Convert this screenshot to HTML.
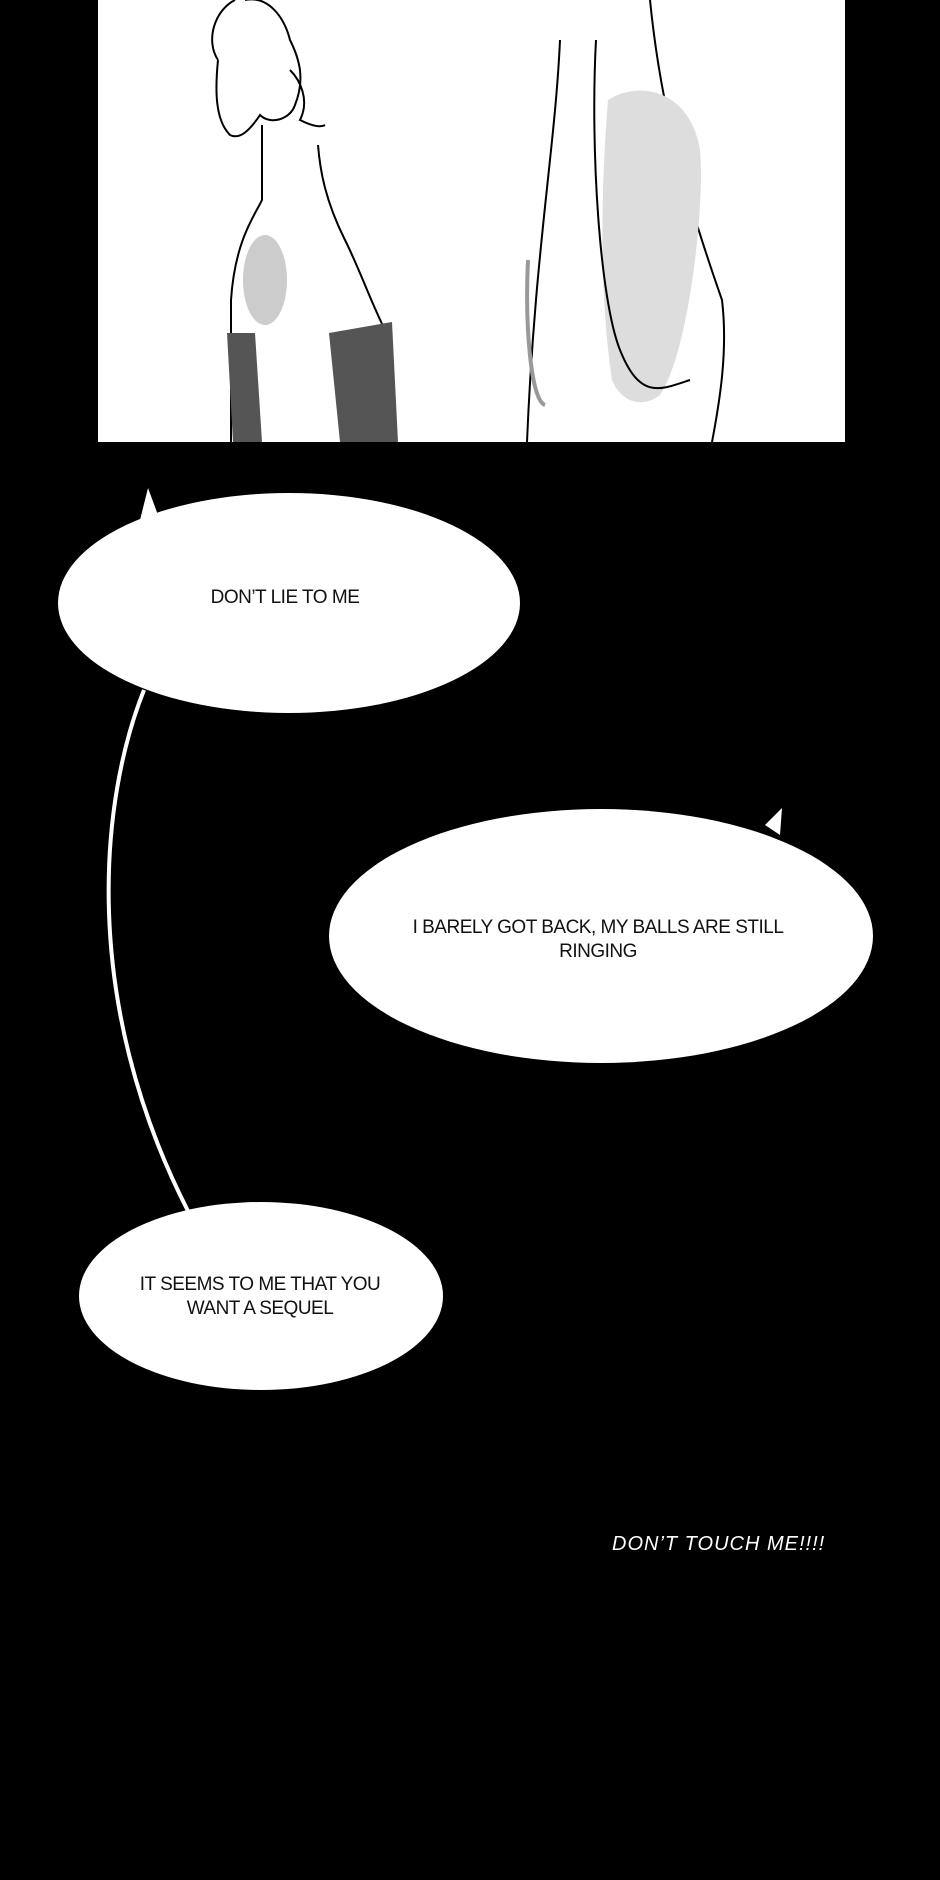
<!DOCTYPE html>
<html><head><meta charset="utf-8"><style>
html,body{margin:0;padding:0;background:#000;}
body{width:940px;height:1880px;position:relative;overflow:hidden;font-family:"Liberation Sans",sans-serif;}
.t{position:absolute;color:#111;font-size:19px;text-align:center;letter-spacing:-0.5px;line-height:24px;}
</style></head><body>
<svg width="940" height="1880" style="position:absolute;left:0;top:0">
<rect x="98" y="0" width="747" height="442" fill="#fff"/>
<g fill="none" stroke="#000" stroke-width="2">
<path d="M218 60 C205 40 215 10 235 0 M245 0 C270 -5 285 20 290 40 C300 60 305 80 295 105 C290 120 270 125 260 115 C250 130 240 140 230 135 C215 120 215 90 218 60"/>
<path d="M262 125 L262 200 C255 215 235 240 231 300 L231 442"/>
<path d="M318 145 C320 170 325 200 345 240 C360 270 370 300 385 330"/>
<path d="M290 70 C300 80 310 100 300 120 C310 125 320 128 325 125"/>
</g>
<path d="M227 333 L255 333 L262 442 L233 442 Z" fill="#555"/>
<path d="M329 333 L392 322 L398 442 L340 442 Z" fill="#555"/>
<ellipse cx="265" cy="280" rx="22" ry="45" fill="#ccc"/>
<g fill="none" stroke="#000" stroke-width="2">
<path d="M560 40 C555 150 535 250 527 442"/>
<path d="M650 0 C660 100 680 180 722 300 C728 350 720 400 712 442"/>
</g>
<path d="M608 100 C640 80 690 90 700 150 C705 200 690 350 660 395 C640 410 620 400 612 380 C600 300 600 200 608 100Z" fill="#ddd"/>
<path d="M596 40 C590 150 600 300 620 350 C640 400 660 390 690 380" fill="none" stroke="#000" stroke-width="2"/>
<path d="M528 260 C525 320 530 400 545 405" fill="none" stroke="#999" stroke-width="4"/>
<path d="M140 520 L148 488 L158 515 Z" fill="#fff"/>
<ellipse cx="289" cy="603" rx="231" ry="110" fill="#fff"/>
<path d="M765 825 L782 808 L780 835 Z" fill="#fff"/>
<ellipse cx="601" cy="936" rx="272" ry="127" fill="#fff"/>
<ellipse cx="261" cy="1296" rx="182" ry="94" fill="#fff"/>
<path d="M144 690 C100 800 80 1000 188 1211" fill="none" stroke="#fff" stroke-width="4"/>
</svg>
<div class="t" style="left:185px;top:586px;width:200px;">DON’T LIE TO ME</div>
<div class="t" style="left:380px;top:916px;width:436px;">I BARELY GOT BACK, MY BALLS ARE STILL<br>RINGING</div>
<div class="t" style="left:110px;top:1273px;width:300px;">IT SEEMS TO ME THAT YOU<br>WANT A SEQUEL</div>
<div style="position:absolute;left:612px;top:1533px;width:220px;color:#fff;font-size:20px;font-style:italic;letter-spacing:1px;">DON’T TOUCH ME!!!!</div>
</body></html>
